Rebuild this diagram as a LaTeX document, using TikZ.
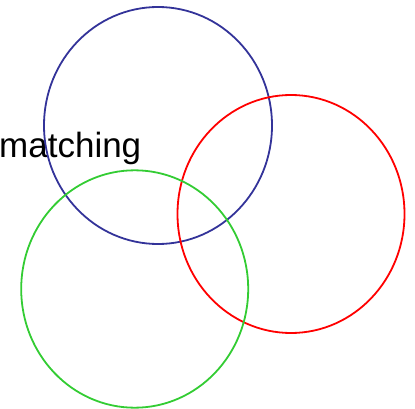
\documentclass[tikz,border=0pt]{standalone}
\usepackage{fontspec}
\setmainfont{Liberation Sans}
\definecolor{cblue}{RGB}{51,51,153}
\definecolor{cred}{RGB}{255,0,0}
\definecolor{cgreen}{RGB}{51,204,51}
\begin{document}
\begin{tikzpicture}[x=1pt,y=-1pt,
  ring/.style={line width=1.8pt},
  lbl/.style={inner sep=0pt,anchor=base west,font=\fontsize{35}{42}\selectfont}]
\useasboundingbox (0,0) rectangle (415,409);
\clip (0,0) rectangle (415,409);
\node[lbl] (t) at (-1,157.5) {matching};
\draw[ring,cblue] (158,125.5) ellipse [x radius=114, y radius=118.5];
\draw[ring,cred] (291,214) ellipse [x radius=113.5, y radius=119];
\draw[ring,cgreen] (134.7,289) ellipse [x radius=113.5, y radius=118.7];
\end{tikzpicture}
\end{document}
